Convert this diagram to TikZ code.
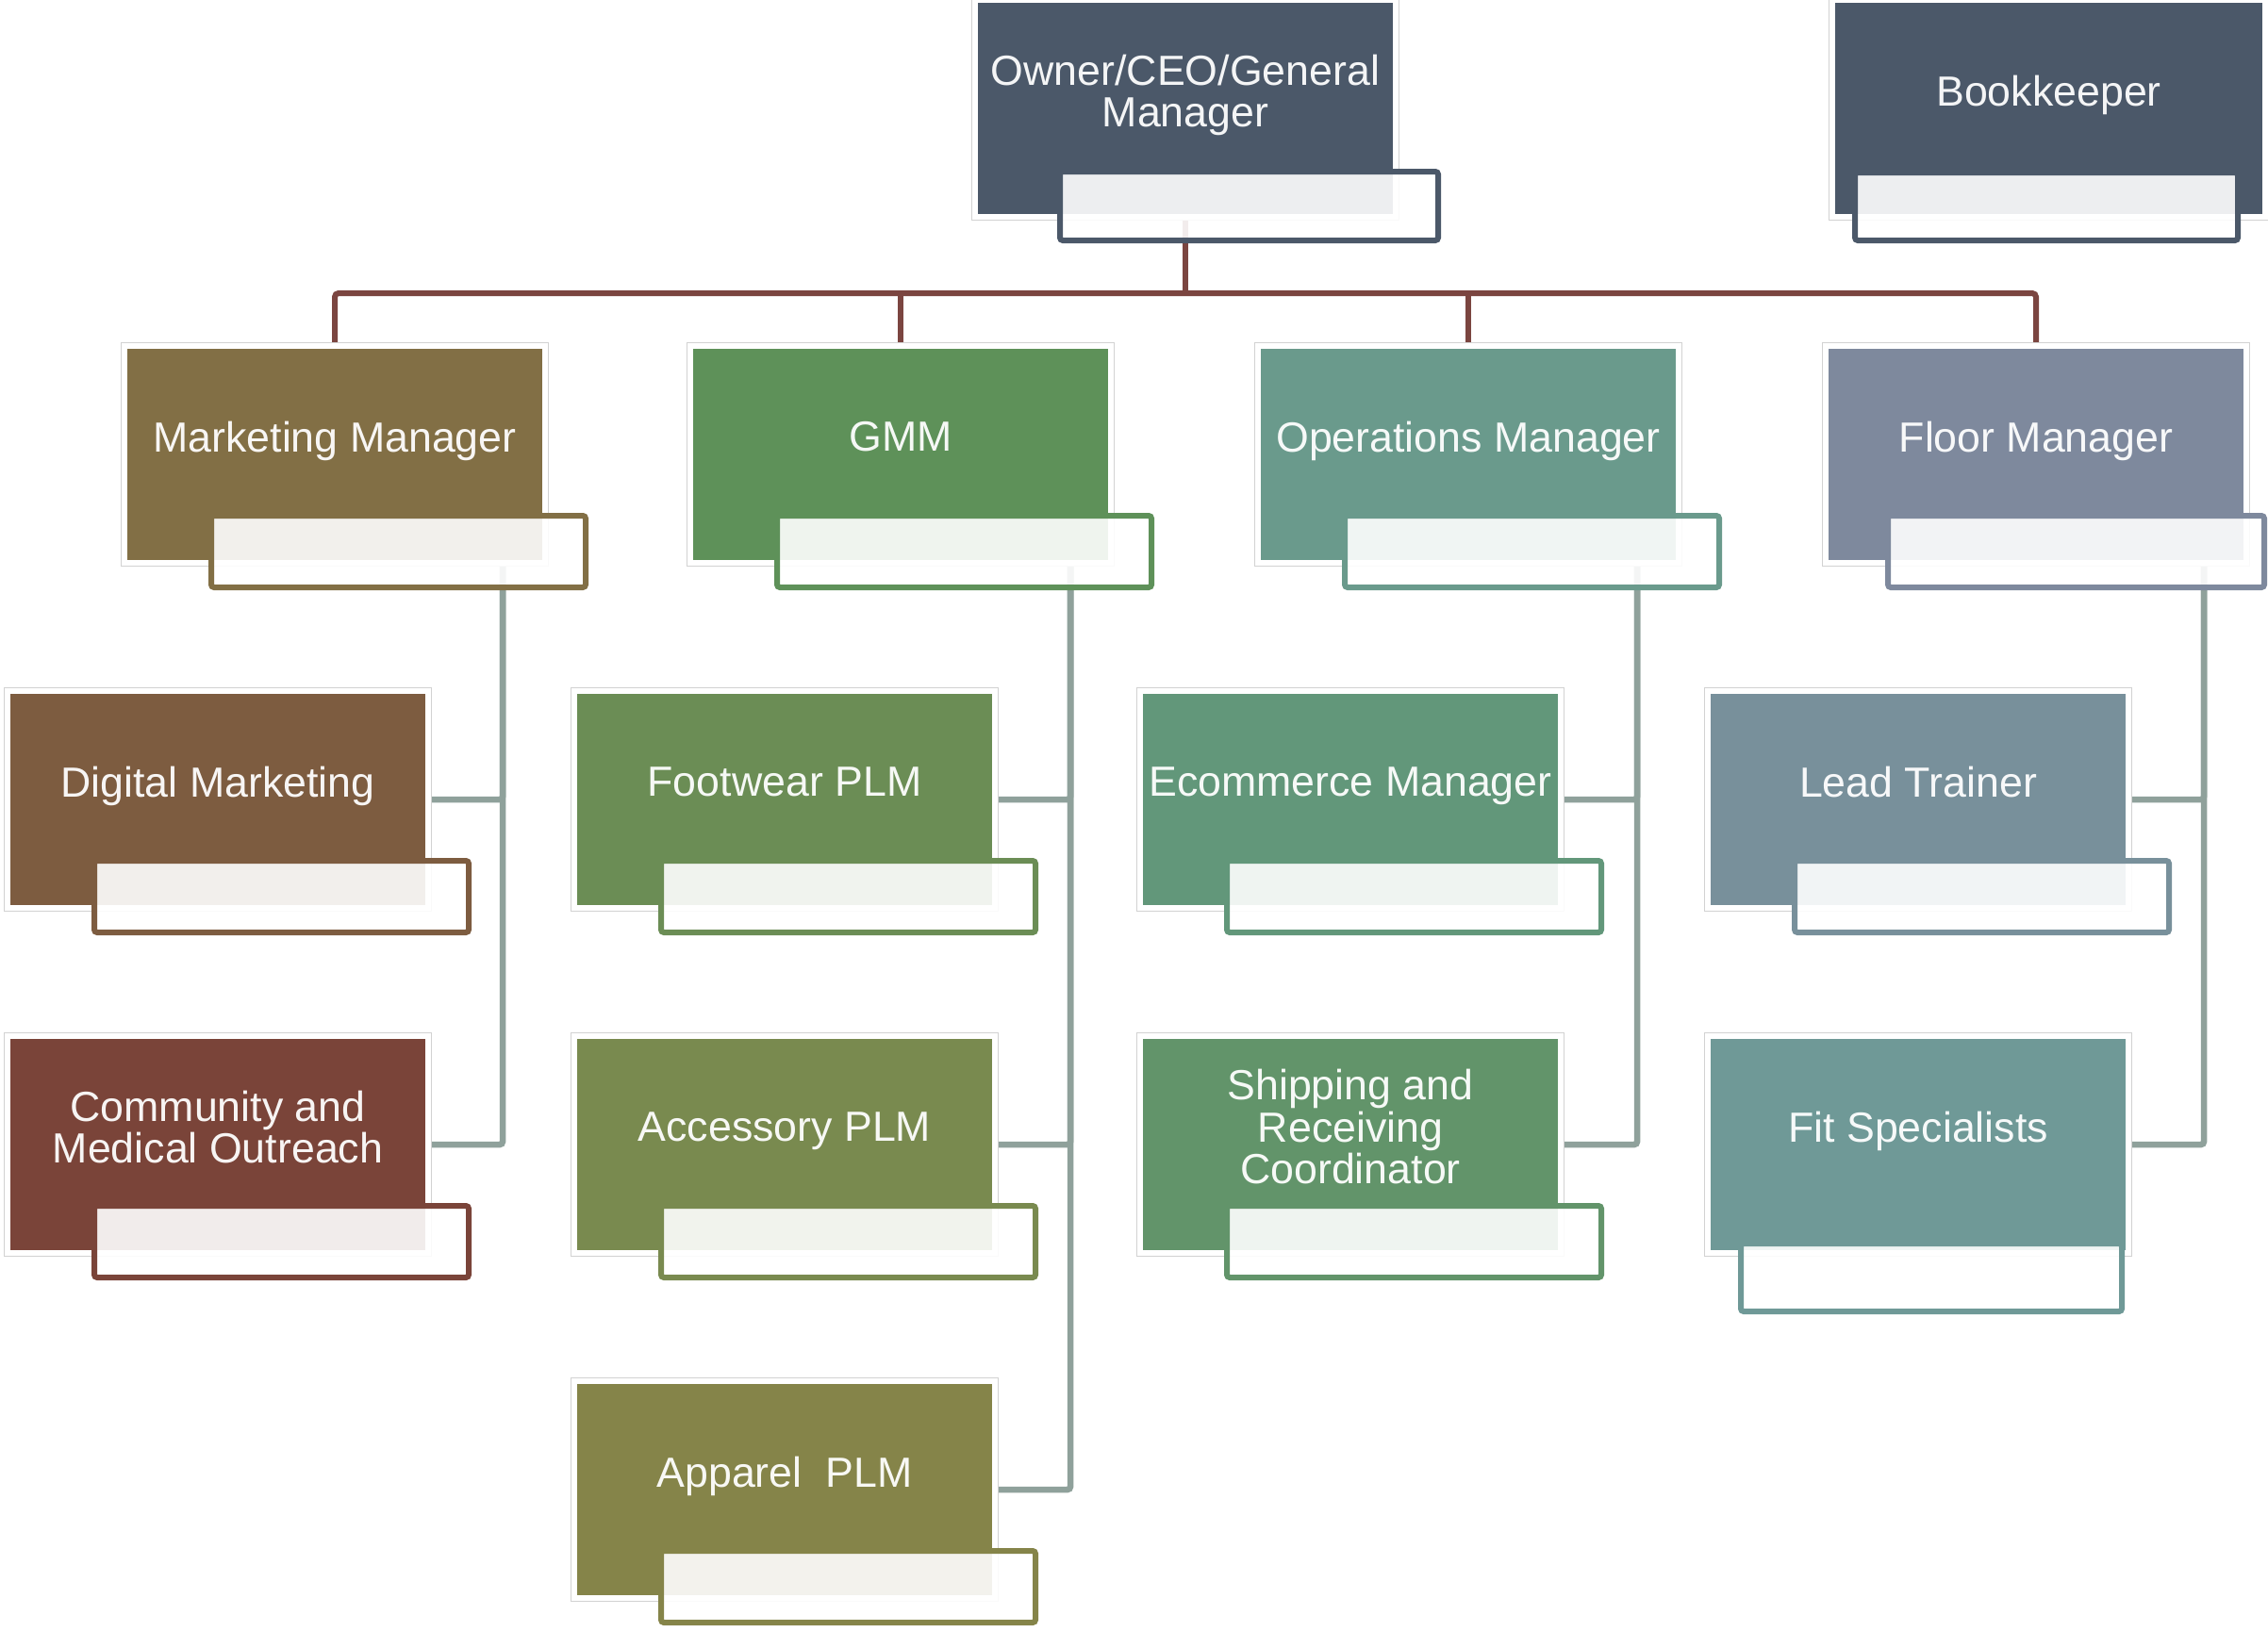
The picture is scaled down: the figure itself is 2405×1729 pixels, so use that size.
\documentclass[tikz,border=0pt]{standalone}
\usepackage{fontspec}
\setmainfont{Liberation Sans}
\usetikzlibrary{calc}
\pgfdeclarelayer{back}
\pgfdeclarelayer{bg}
\pgfsetlayers{back,bg,main}

\definecolor{cOwner}{HTML}{4B5869}
\definecolor{cMM}{HTML}{826F45}
\definecolor{cGM}{HTML}{5E9159}
\definecolor{cOP}{HTML}{6A9A8C}
\definecolor{cFM}{HTML}{7E899D}
\definecolor{cDM}{HTML}{7D5C40}
\definecolor{cCM}{HTML}{7A4439}
\definecolor{cFW}{HTML}{6B8D55}
\definecolor{cAC}{HTML}{798A4F}
\definecolor{cAP}{HTML}{858449}
\definecolor{cEC}{HTML}{62977A}
\definecolor{cSH}{HTML}{62946A}
\definecolor{cLT}{HTML}{78909B}
\definecolor{cFS}{HTML}{6F9997}
\definecolor{cTop}{HTML}{7B4540}
\definecolor{cChild}{HTML}{8FA19B}
\definecolor{cFrame}{HTML}{D2D2D2}

\newcommand\bxstrut{\rule[-0.25em]{0pt}{0.8em}}
\def\boxw{440}

\tikzset{
  frm/.style={draw=cFrame, fill=white, line width=1.5pt, inner sep=0pt, outer sep=0pt, minimum height=237},
  colbox/.style={inner sep=0pt, outer sep=0pt, minimum height=224},
  lbl/.style={inner sep=0pt, outer sep=0pt, align=center,
    font=\fontsize{44.7}{44.5}\selectfont,
    execute at begin node=\bxstrut, execute at end node=\bxstrut},
  subbox/.style={fill=white, fill opacity=0.9, line width=6pt, rounded corners=3pt, inner sep=0pt, outer sep=0pt},
  topln/.style={draw=cTop, line width=6pt, rounded corners=4pt},
  chln/.style={draw=cChild, line width=6.5pt, rounded corners=3pt},
}

% #1 name, #2 colour, #3 left, #4 top, #5 text, #6 sub x offset, #7 sub width, #8 sub y offset, #9 sub height
\newcommand\orgbox[9]{%
  \node[frm, minimum width=\boxw+13, anchor=north west] (#1) at ({#3-6.5},{#4-6.5}) {};
  \node[colbox, fill=#2, minimum width=\boxw, anchor=north west] (#1-c) at (#3,#4) {};
  \node[lbl, text=white!94!#2] (#1-t) at ({#3+\boxw/2},{#4+98.7}) {#5};
  \node[subbox, draw=#2, anchor=north west, minimum width=#7, minimum height=#9] (#1-s) at ({#3+#6},{#4+#8}) {};
}

\begin{document}
\begin{tikzpicture}[x=1pt, y=-1pt]
\useasboundingbox (0,0) rectangle (2405,1729);
\begin{pgfonlayer}{back}
  \fill[white] (0,0) rectangle (2405,1729);
\end{pgfonlayer}

% top
\orgbox{ow}{cOwner}{1037}{3}{Owner/CEO/General\\Manager}{87}{401}{179}{73}
\def\boxw{453}
\orgbox{bk}{cOwner}{1946}{3}{Bookkeeper}{21}{406}{180}{72}
\def\boxw{440}

% row 1
\orgbox{mm}{cMM}{135}{370}{Marketing Manager}{89}{397}{177}{76}
\orgbox{gm}{cGM}{735}{370}{GMM}{89}{397}{177}{76}
\orgbox{op}{cOP}{1337}{370}{Operations Manager}{89}{397}{177}{76}
\orgbox{fm}{cFM}{1939}{370}{Floor Manager}{63}{399}{177}{76}

% row 2
\orgbox{dm}{cDM}{11}{736}{Digital Marketing}{89}{397}{177}{76}
\orgbox{fw}{cFW}{612}{736}{Footwear PLM}{89}{397}{177}{76}
\orgbox{ec}{cEC}{1212}{736}{Ecommerce Manager}{89}{397}{177}{76}
\orgbox{lt}{cLT}{1814}{736}{Lead Trainer}{89}{397}{177}{76}

% row 3
\orgbox{cm}{cCM}{11}{1102}{Community and\\Medical Outreach}{89}{397}{177}{76}
\orgbox{ac}{cAC}{612}{1102}{Accessory PLM}{89}{397}{177}{76}
\orgbox{sh}{cSH}{1212}{1102}{Shipping and\\Receiving\\Coordinator}{89}{397}{177}{76}
\orgbox{fs}{cFS}{1814}{1102}{Fit Specialists}{32}{404}{217}{72}

% row 4
\orgbox{ap}{cAP}{612}{1468}{Apparel~ PLM}{89}{397}{177}{76}

\begin{pgfonlayer}{bg}
  \coordinate (bus) at (0,311);
  \draw[topln] (ow-c.south |- ow-s.center) -- (ow-c.south |- bus);
  \draw[topln] (mm.north) -- (mm.north |- bus) -- (fm.north |- bus) -- (fm.north);
  \draw[topln] (gm.north |- bus) -- (gm.north);
  \draw[topln] (op.north |- bus) -- (op.north);

  \coordinate (mm-v) at (533,0);
  \coordinate (gm-v) at (1135,0);
  \coordinate (op-v) at (1736,0);
  \coordinate (fm-v) at (2337,0);
  \draw[chln] (mm-v |- mm-c.south) |- (dm.east);
  \draw[chln] (mm-v |- mm-c.south) |- (cm.east);
  \draw[chln] (gm-v |- gm-c.south) |- (fw.east);
  \draw[chln] (gm-v |- gm-c.south) |- (ac.east);
  \draw[chln] (gm-v |- gm-c.south) |- (ap.east);
  \draw[chln] (op-v |- op-c.south) |- (ec.east);
  \draw[chln] (op-v |- op-c.south) |- (sh.east);
  \draw[chln] (fm-v |- fm-c.south) |- (lt.east);
  \draw[chln] (fm-v |- fm-c.south) |- (fs.east);
\end{pgfonlayer}
\end{tikzpicture}
\end{document}
